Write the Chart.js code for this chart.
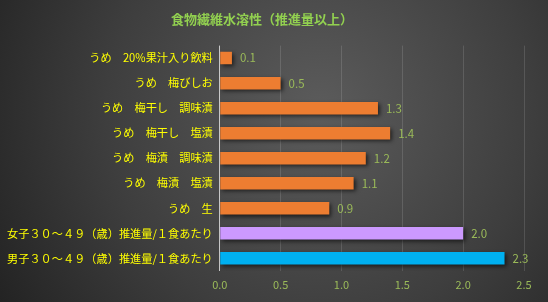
<!DOCTYPE html>
<html>
<head>
<meta charset="utf-8">
<script src="https://cdn.jsdelivr.net/npm/chart.js@4"></script>
<style>
  html, body { margin: 0; padding: 0; background: #2b2b2b; }
  #wrap { width: 548px; height: 302px; }
</style>
</head>
<body>
<div id="wrap"><canvas id="myChart" width="548" height="302"></canvas></div>
<script>
// data
const categories = [
  'うめ　20%果汁入り飲料',
  'うめ　梅びしお',
  'うめ　梅干し　調味漬',
  'うめ　梅干し　塩漬',
  'うめ　梅漬　調味漬',
  'うめ　梅漬　塩漬',
  'うめ　生',
  '女子３０～４９（歳）推進量/１食あたり',
  '男子３０～４９（歳）推進量/１食あたり'
];
const values = [0.1, 0.5, 1.3, 1.4, 1.2, 1.1, 0.9, 2.0, 2.34];
const barColors = ['#ED7D31', '#ED7D31', '#ED7D31', '#ED7D31', '#ED7D31', '#ED7D31', '#ED7D31', '#CC99FF', '#00B0F0'];
const xTicks = [0, 0.5, 1.0, 1.5, 2.0, 2.5];
const titleText = '食物繊維水溶性（推進量以上）';

const FONT = "'Noto Sans CJK JP', 'Noto Sans', sans-serif";

// background gradient
const bgPlugin = {
  id: 'bg',
  beforeDraw(chart) {
    const ctx = chart.ctx;
    const w = chart.width, h = chart.height;
    const g = ctx.createRadialGradient(320, 110, 10, 320, 110, 380);
    g.addColorStop(0, '#5a5a5a');
    g.addColorStop(0.55, '#3e3e3e');
    g.addColorStop(1, '#222222');
    ctx.save();
    ctx.fillStyle = g;
    ctx.fillRect(0, 0, w, h);
    ctx.restore();
  }
};

// bar shadow
const shadowPlugin = {
  id: 'shadow',
  beforeDatasetDraw(chart) {
    const ctx = chart.ctx;
    ctx.save();
    ctx.shadowColor = 'rgba(0,0,0,0.6)';
    ctx.shadowBlur = 4;
    ctx.shadowOffsetX = 2;
    ctx.shadowOffsetY = 2;
  },
  afterDatasetDraw(chart) {
    chart.ctx.restore();
  }
};

// value labels
const valueLabels = {
  id: 'valueLabels',
  afterDatasetsDraw(chart) {
    const ctx = chart.ctx;
    const meta = chart.getDatasetMeta(0);
    ctx.save();
    ctx.font = '11.5px ' + FONT;
    ctx.fillStyle = '#9BBB59';
    ctx.textAlign = 'left';
    ctx.textBaseline = 'middle';
    meta.data.forEach((bar, i) => {
      ctx.fillText(values[i].toFixed(1), bar.x + 8, bar.y);
    });
    ctx.restore();
  }
};

const data = {
  labels: categories,
  datasets: [{
    data: values,
    backgroundColor: barColors,
    borderWidth: 0,
    barPercentage: 0.5,
    categoryPercentage: 1.0
  }]
};

const config = {
  type: 'bar',
  data,
  options: {
    indexAxis: 'y',
    responsive: false,
    animation: false,
    layout: { padding: { top: 10, right: 24, bottom: 4, left: 0 } },
    plugins: {
      legend: { display: false },
      tooltip: { enabled: false },
      title: {
        display: true,
        text: titleText,
        color: '#92D050',
        font: { family: FONT, size: 13 },
        padding: { top: 1, bottom: 19 }
      }
    },
    scales: {
      x: {
        min: 0,
        max: 2.5,
        afterBuildTicks(axis) { axis.ticks = xTicks.map(v => ({ value: v })); },
        ticks: {
          color: '#9BBB59',
          font: { family: FONT, size: 11 },
          callback: v => Number(v).toFixed(1),
          padding: 7
        },
        grid: {
          color: ctx => ctx.tick && ctx.tick.value === 0 ? 'rgba(255,255,255,0.7)' : 'rgba(255,255,255,0.13)',
          drawTicks: false
        },
        border: { display: false }
      },
      y: {
        ticks: {
          color: '#FFFF00',
          font: { family: FONT, size: 11.2 },
          padding: 7
        },
        grid: { display: false, drawTicks: false },
        border: { display: false }
      }
    }
  },
  plugins: [bgPlugin, shadowPlugin, valueLabels]
};

const myChart = new Chart(document.getElementById('myChart'), config);
</script>
</body>
</html>
